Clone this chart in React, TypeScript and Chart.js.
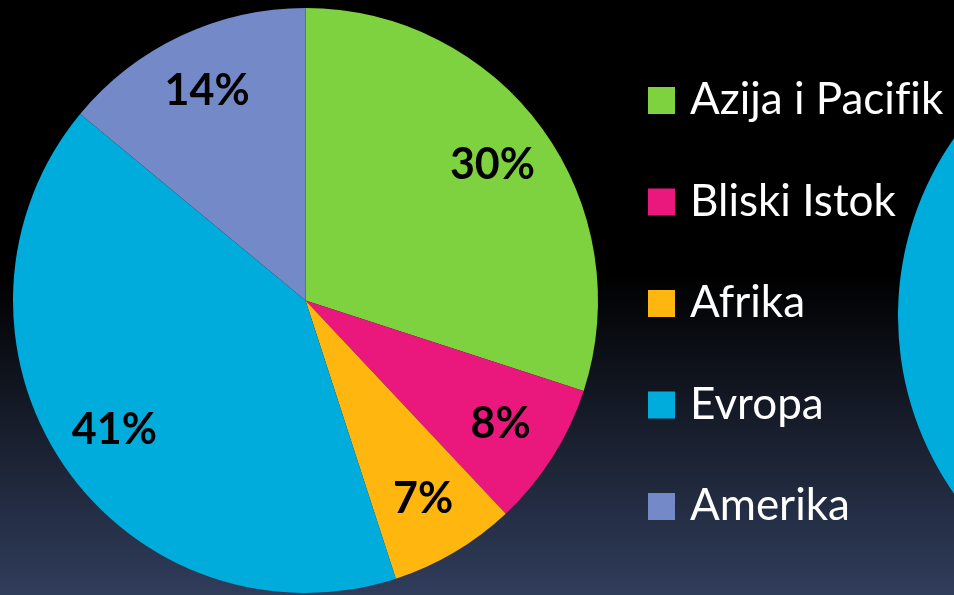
import React, { useEffect, useRef } from "react";
import { Chart, registerables } from "chart.js";

Chart.register(...registerables);

// ---- data ----
const categories = ["Azija i Pacifik", "Bliski Istok", "Afrika", "Evropa", "Amerika"];
const shares = [30, 8, 7, 41, 14];
const sliceColors = ["#7fd23f", "#ea187c", "#ffb60f", "#00acdc", "#7389c8"];
// second (mostly off-screen) pie at the right edge
const secondShares = [31, 8, 7, 39, 15];

const FONT = "Lato, 'Open Sans', sans-serif";

const pctLabelPlugin = {
  id: "pctLabels",
  afterDatasetsDraw(chart: any) {
    const meta = chart.getDatasetMeta(0);
    const data = chart.data.datasets[0].data as number[];
    const ctx = chart.ctx as CanvasRenderingContext2D;
    ctx.save();
    ctx.fillStyle = "#000000";
    ctx.font = `bold 43px ${FONT}`;
    ctx.textAlign = "center";
    ctx.textBaseline = "middle";
    meta.data.forEach((arc: any, i: number) => {
      const p = arc.getProps(["x", "y", "startAngle", "endAngle", "outerRadius"], true);
      const mid = (p.startAngle + p.endAngle) / 2;
      const r = p.outerRadius * 0.79;
      ctx.fillText(`${data[i]}%`, p.x + Math.cos(mid) * r, p.y + Math.sin(mid) * r);
    });
    ctx.restore();
  },
};

const sideLegendPlugin = {
  id: "sideLegend",
  afterDraw(chart: any) {
    const ctx = chart.ctx as CanvasRenderingContext2D;
    const labels = chart.data.labels as string[];
    const colors = chart.data.datasets[0].backgroundColor as string[];
    ctx.save();
    ctx.font = `44px ${FONT}`;
    (ctx as any).textRendering = "optimizeSpeed";
    ctx.textAlign = "left";
    ctx.textBaseline = "alphabetic";
    labels.forEach((lab, i) => {
      const cy = 100 + i * 101.5;
      ctx.fillStyle = colors[i];
      ctx.fillRect(648, cy - 13, 27, 27);
      ctx.fillStyle = "#ffffff";
      ctx.fillText(lab, 690, cy + 14);
    });
    ctx.restore();
  },
};

export default function App() {
  const mainRef = useRef<HTMLCanvasElement | null>(null);
  const sideRef = useRef<HTMLCanvasElement | null>(null);

  useEffect(() => {
    document.body.style.margin = "0";
    const main = new Chart(mainRef.current as HTMLCanvasElement, {
      type: "pie",
      data: {
        labels: categories,
        datasets: [
          {
            data: shares,
            backgroundColor: sliceColors,
            borderWidth: 0,
          },
        ],
      },
      options: {
        responsive: false,
        animation: false,
        layout: { padding: { left: 13, top: 8, right: 356, bottom: 2 } },
        plugins: { legend: { display: false }, tooltip: { enabled: false } },
      },
      plugins: [pctLabelPlugin, sideLegendPlugin],
    });
    const side = new Chart(sideRef.current as HTMLCanvasElement, {
      type: "pie",
      data: {
        labels: categories,
        datasets: [
          {
            data: secondShares,
            backgroundColor: sliceColors,
            borderWidth: 0,
          },
        ],
      },
      options: {
        responsive: false,
        animation: false,
        plugins: { legend: { display: false }, tooltip: { enabled: false } },
      },
    });
    return () => {
      main.destroy();
      side.destroy();
    };
  }, []);

  return (
    <div
      style={{
        position: "fixed",
        left: 0,
        top: 0,
        width: 954,
        height: 595,
        overflow: "hidden",
        background: "linear-gradient(to bottom, #000000 0%, #000000 46%, #303d5b 100%)",
      }}
    >
      <canvas
        ref={mainRef}
        width={954}
        height={595}
        style={{ position: "absolute", left: 0, top: 0, width: 954, height: 595 }}
      />
      <canvas
        ref={sideRef}
        width={620}
        height={620}
        style={{ position: "absolute", left: 898, top: 6, width: 620, height: 620 }}
      />
    </div>
  );
}
